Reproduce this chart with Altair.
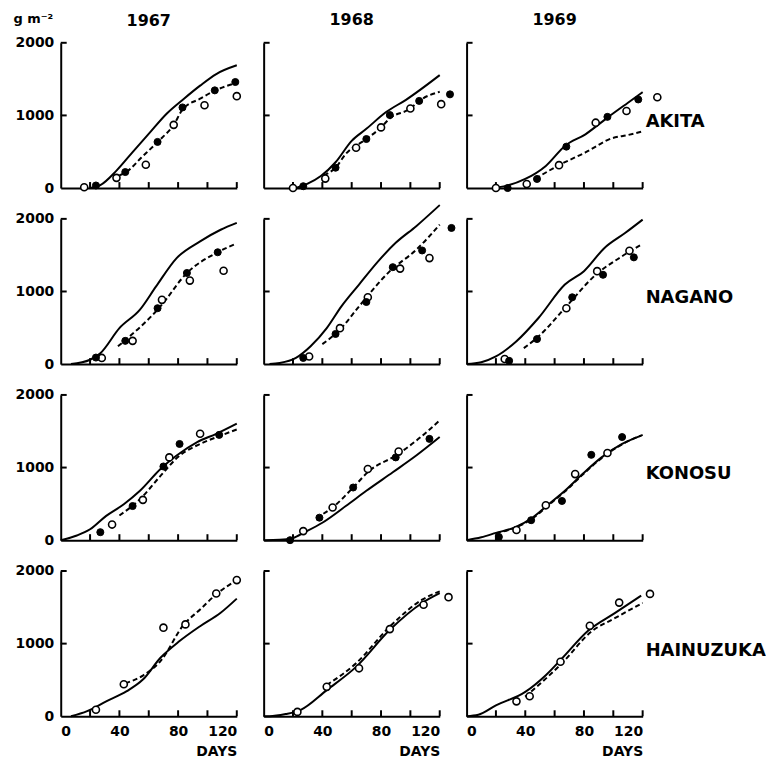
import altair as alt
import pandas as pd

FONT = "DejaVu Sans"
STATIONS = ["AKITA", "NAGANO", "KONOSU", "HAINUZUKA"]
YEARS = ["1967", "1968", "1969"]
X_TICKS = [0, 20, 40, 60, 80, 100, 120]
X_LABELS = [0, 40, 80, 120]
Y_TICKS = [0, 1000, 2000]

# (day, g m-2) pairs
akita_1967_solid = [(20, 0), (27, 40), (38, 240), (49, 495), (61, 770), (72, 1020), (84, 1230), (95, 1410), (106, 1570), (120, 1690)]
akita_1967_dashed = [(40, 175), (45, 225), (55, 420), (66, 635), (77, 870), (83, 1080), (95, 1230), (105, 1340), (120, 1450)]
akita_1967_open = [(16, 10), (38, 140), (58, 320), (77, 870), (98, 1140), (120, 1265)]
akita_1967_filled = [(24, 35), (44, 220), (66, 635), (83, 1110), (105, 1345), (119, 1460)]

akita_1968_solid = [(22, 0), (30, 60), (39, 165), (49, 355), (60, 650), (70, 815), (83, 1040), (97, 1215), (120, 1555)]
akita_1968_dashed = [(41, 175), (49, 280), (56, 470), (70, 675), (80, 835), (86, 960), (100, 1095), (106, 1200), (120, 1325)]
akita_1968_open = [(20, 0), (42, 130), (63, 555), (80, 835), (100, 1095), (121, 1155)]
akita_1968_filled = [(27, 25), (49, 280), (70, 675), (86, 1005), (106, 1200), (127, 1290)]

akita_1969_solid = [(18, 0), (27, 30), (40, 125), (54, 305), (67, 580), (81, 740), (96, 970), (110, 1175), (120, 1320)]
akita_1969_dashed = [(47, 130), (63, 315), (81, 490), (99, 685), (110, 730), (119, 775)]
akita_1969_open = [(20, 0), (41, 55), (63, 315), (88, 900), (109, 1060), (130, 1250)]
akita_1969_filled = [(28, 0), (48, 125), (68, 570), (96, 980), (117, 1220)]

nagano_1967_solid = [(7, 0), (20, 60), (27, 150), (40, 495), (54, 750), (65, 1070), (79, 1460), (95, 1690), (109, 1850), (120, 1945)]
nagano_1967_dashed = [(39, 245), (68, 795), (86, 1255), (106, 1530), (119, 1655)]
nagano_1967_open = [(28, 85), (49, 320), (69, 885), (88, 1150), (111, 1285)]
nagano_1967_filled = [(24, 90), (44, 320), (66, 770), (86, 1255), (107, 1540)]

nagano_1968_solid = [(4, 0), (11, 15), (22, 85), (32, 245), (43, 495), (53, 795), (65, 1095), (78, 1415), (90, 1670), (104, 1900), (120, 2190)]
nagano_1968_dashed = [(40, 275), (52, 475), (65, 795), (86, 1280), (104, 1575), (120, 1920)]
nagano_1968_open = [(31, 105), (52, 495), (71, 920), (93, 1315), (113, 1460)]
nagano_1968_filled = [(27, 85), (49, 415), (70, 855), (88, 1335), (108, 1565), (128, 1875)]

nagano_1969_solid = [(0, 0), (10, 25), (20, 105), (34, 315), (49, 635), (67, 1095), (80, 1280), (94, 1600), (108, 1805), (120, 1990)]
nagano_1969_dashed = [(39, 220), (49, 380), (68, 795), (88, 1230), (106, 1485), (119, 1645)]
nagano_1969_open = [(26, 70), (68, 770), (89, 1280), (111, 1560)]
nagano_1969_filled = [(29, 45), (48, 345), (72, 920), (93, 1230), (114, 1470)]

konosu_1967_solid = [(0, 0), (11, 65), (20, 150), (31, 335), (43, 495), (54, 680), (68, 980), (79, 1165), (93, 1350), (106, 1465), (120, 1605)]
konosu_1967_dashed = [(40, 340), (54, 565), (68, 885), (81, 1165), (95, 1325), (109, 1440), (120, 1525)]
konosu_1967_open = [(35, 215), (56, 555), (74, 1140), (95, 1465)]
konosu_1967_filled = [(27, 110), (49, 470), (70, 1015), (81, 1325), (108, 1450)]

konosu_1968_solid = [(0, 0), (11, 5), (20, 30), (28, 110), (40, 240), (56, 470), (70, 680), (88, 935), (104, 1165), (120, 1420)]
konosu_1968_dashed = [(36, 310), (47, 450), (61, 725), (72, 955), (90, 1165), (104, 1370), (120, 1650)]
konosu_1968_open = [(27, 125), (47, 450), (71, 980), (92, 1220)]
konosu_1968_filled = [(18, 0), (38, 310), (61, 725), (90, 1140), (113, 1395)]

konosu_1969_solid = [(0, 0), (10, 40), (20, 100), (34, 185), (45, 310), (56, 495), (67, 680), (79, 910), (92, 1140), (106, 1325), (119, 1440)]
konosu_1969_dashed = [(20, 95), (34, 180), (45, 300), (56, 485), (67, 670), (79, 900), (92, 1130), (106, 1320), (120, 1450)]
konosu_1969_open = [(34, 140), (54, 480), (74, 910), (96, 1200)]
konosu_1969_filled = [(22, 45), (44, 275), (65, 540), (85, 1175), (106, 1420)]

hainuzuka_1967_solid = [(7, 0), (18, 70), (31, 205), (45, 345), (56, 505), (68, 805), (81, 1035), (95, 1240), (109, 1425), (120, 1620)]
hainuzuka_1967_dashed = [(44, 455), (56, 560), (68, 760), (84, 1265), (95, 1470), (106, 1680), (120, 1875)]
hainuzuka_1967_open = [(24, 90), (43, 440), (70, 1220), (85, 1265), (106, 1690), (120, 1875)]
hainuzuka_1967_filled = []

hainuzuka_1968_solid = [(0, 0), (4, 0), (15, 30), (25, 85), (43, 360), (63, 680), (86, 1190), (108, 1560), (120, 1695)]
hainuzuka_1968_dashed = [(43, 430), (63, 730), (86, 1235), (108, 1605), (120, 1720)]
hainuzuka_1968_open = [(23, 60), (43, 405), (65, 660), (86, 1200), (109, 1535), (126, 1640)]
hainuzuka_1968_filled = []

hainuzuka_1969_solid = [(0, 0), (8, 20), (20, 150), (40, 335), (54, 565), (65, 795), (83, 1180), (101, 1420), (119, 1660)]
hainuzuka_1969_dashed = [(40, 270), (65, 730), (85, 1165), (101, 1350), (120, 1560)]
hainuzuka_1969_open = [(34, 205), (43, 275), (64, 750), (84, 1245), (104, 1565), (125, 1685)]
hainuzuka_1969_filled = []

G = globals()
W, H = 177, 146
TICK_PX = 6
XMAX, YMAX = X_TICKS[-1], Y_TICKS[-1]
XSCALE = alt.Scale(domain=[0, XMAX], nice=False)
YSCALE = alt.Scale(domain=[0, YMAX], nice=False)


def panel_df(station, year, with_label):
    rows = []
    key = f"{station.lower()}_{year}"
    for kind in ("solid", "dashed", "open", "filled"):
        for day, g in G[f"{key}_{kind}"]:
            rows.append({"day": day, "g": g, "kind": kind, "txt": ""})
    if with_label:
        rows.append({"day": XMAX, "g": YMAX / 2, "kind": "label", "txt": station})
    return pd.DataFrame(rows)


# inward axis ticks (tick positions from the tick lists, length from pixels)
XTICK_DF = pd.DataFrame({"day": X_TICKS[1:], "g": [0] * (len(X_TICKS) - 1),
                         "g2": [TICK_PX / H * YMAX] * (len(X_TICKS) - 1)})
YTICK_DF = pd.DataFrame({"day": [0] * (len(Y_TICKS) - 1), "g": Y_TICKS[1:],
                         "day2": [TICK_PX / W * XMAX] * (len(Y_TICKS) - 1)})


def panel(r, c):
    station, year = STATIONS[r], YEARS[c]
    right = c == len(YEARS) - 1
    df = panel_df(station, year, right)
    bottom = r == len(STATIONS) - 1
    left = c == 0
    lab_expr = "indexof([" + ",".join(str(v) for v in X_LABELS) + "], datum.value) >= 0 ? datum.label : ''"
    xkw = dict(values=X_TICKS, labels=bottom, labelExpr=lab_expr, ticks=False, grid=False,
               domainColor="black", domainWidth=2, labelPadding=8, labelFontSize=14,
               labelFontWeight="bold", labelColor="black", labelFont=FONT)
    if bottom:
        xkw.update(title="DAYS", titleAnchor="end", titleFontSize=14, titleFontWeight="bold",
                   titlePadding=6, titleColor="black", titleFont=FONT)
    else:
        xkw.update(title=None)
    ykw = dict(values=Y_TICKS, format="d", labels=left, ticks=False, grid=False, domainColor="black",
               domainWidth=2, labelPadding=7, labelFontSize=14, labelFontWeight="bold",
               labelColor="black", labelFont=FONT)
    if left and r == 0:
        ykw.update(title="g m⁻²", titleAngle=0, titleX=-48, titleY=-20, titleAlign="left",
                   titleBaseline="alphabetic", titleFontSize=13, titleFontWeight="bold",
                   titleColor="black", titleFont=FONT)
    else:
        ykw.update(title=None)
    xenc = alt.X("day:Q", scale=XSCALE, axis=alt.Axis(**xkw))
    yenc = alt.Y("g:Q", scale=YSCALE, axis=alt.Axis(**ykw))
    base = alt.Chart(df).encode(x=xenc, y=yenc)
    layers = [
        alt.Chart(XTICK_DF).mark_rule(color="black", strokeWidth=2).encode(
            x=xenc, y=yenc, y2=alt.Y2("g2")),
        alt.Chart(YTICK_DF).mark_rule(color="black", strokeWidth=2).encode(
            x=xenc, y=yenc, x2=alt.X2("day2")),
        base.transform_filter("datum.kind == 'solid'").mark_line(
            color="black", strokeWidth=2, interpolate="monotone"),
        base.transform_filter("datum.kind == 'dashed'").mark_line(
            color="black", strokeWidth=2, strokeDash=[5, 3], interpolate="monotone"),
        base.transform_filter("datum.kind == 'open'").mark_point(
            shape="circle", filled=True, fill="white", stroke="black", strokeWidth=1.6, size=50, opacity=1),
        base.transform_filter("datum.kind == 'filled'").mark_point(
            shape="circle", filled=True, fill="black", stroke="black", strokeWidth=1, size=50, opacity=1),
    ]
    if right:
        layers.append(base.transform_filter("datum.kind == 'label'").mark_text(
            align="left", baseline="middle", dx=3, dy=7, font=FONT, fontSize=18,
            fontWeight="bold", color="black").encode(text="txt:N"))
    ch = alt.layer(*layers).properties(width=W, height=H)
    if r == 0:
        ch = ch.properties(title=alt.TitleParams(year, fontSize=16, fontWeight="bold", font=FONT,
                                                 anchor="middle", offset=-16 if left else 14,
                                                 color="black"))
    return ch


panels = [panel(r, c) for r in range(len(STATIONS)) for c in range(len(YEARS))]

chart = alt.concat(*panels, columns=3, spacing={"row": 31, "column": 27}, bounds="flush").properties(
    padding={"left": 5, "top": 2, "right": 0, "bottom": 0}
).configure_view(strokeOpacity=0)

chart.save("out.html", embed_options={"renderer": "svg", "actions": False})
